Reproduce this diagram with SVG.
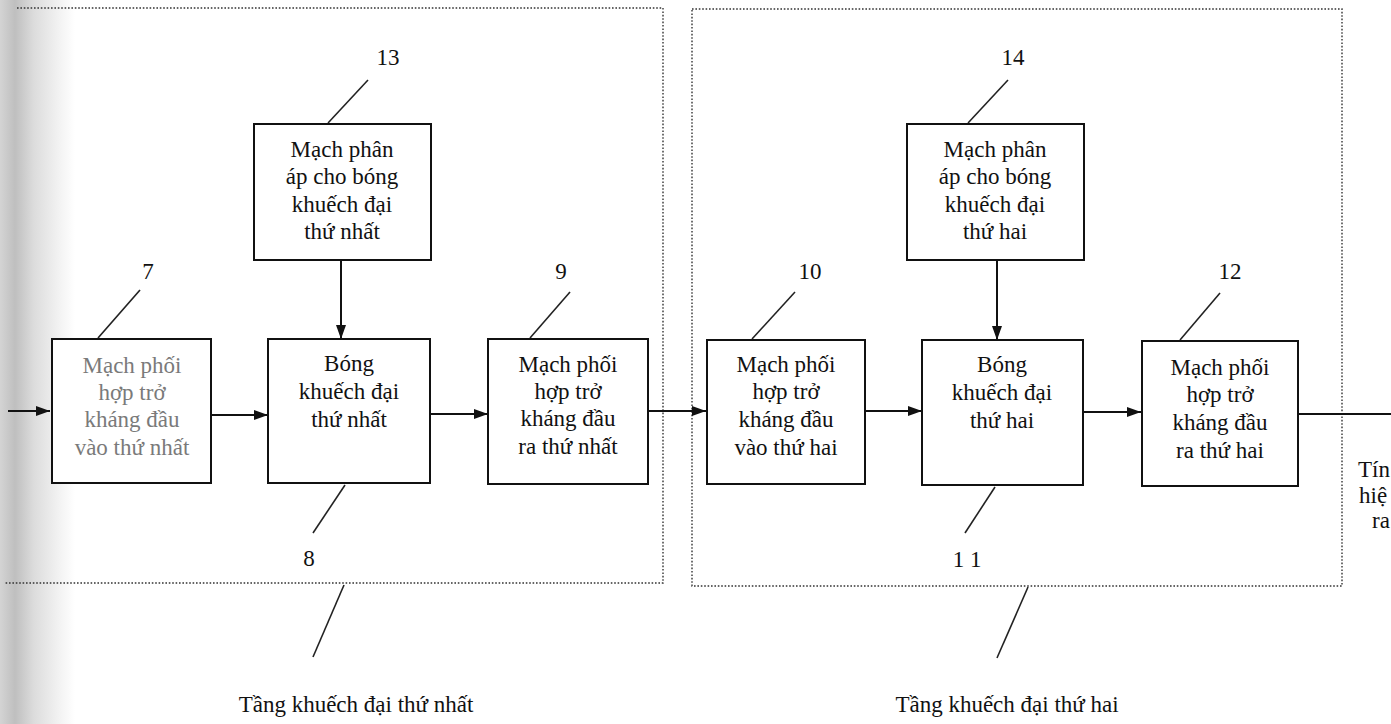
<svg xmlns="http://www.w3.org/2000/svg" width="1391" height="724" viewBox="0 0 1391 724">
<style>
.box{fill:#fff;stroke:#111;stroke-width:2}
.t{font-family:"Liberation Serif","Times New Roman",serif;font-size:23px;fill:#111;text-anchor:middle}
.g{fill:#7a7a7a}
.lead{stroke:#222;stroke-width:1.6;fill:none}
.dot{stroke:#333;stroke-width:1.4;stroke-dasharray:1.6 1.8;fill:none}
.arr{stroke:#111;stroke-width:2;fill:none;marker-end:url(#ah)}
.ln{stroke:#111;stroke-width:2;fill:none}
</style>
<defs>
<marker id="ah" viewBox="0 0 14 10" refX="14" refY="5" markerWidth="14" markerHeight="10" markerUnits="userSpaceOnUse" orient="auto">
<path d="M0,0 L14,5 L0,10 Z" fill="#111"/>
</marker>
<linearGradient id="shade" x1="0" y1="0" x2="1" y2="0">
<stop offset="0" stop-color="#d4d4d4"/>
<stop offset="0.2" stop-color="#bfbfbf"/>
<stop offset="0.45" stop-color="#dcdcdc"/>
<stop offset="0.8" stop-color="#f3f3f3"/>
<stop offset="1" stop-color="#ffffff"/>
</linearGradient>
</defs>
<rect width="1391" height="724" fill="#fff"/>
<rect x="0" y="0" width="75" height="724" fill="url(#shade)"/>

<g id="stage1">
<path class="dot" d="M17,8 H663 V583 H5"/>
</g>
<g id="stage2">
<rect class="dot" x="692" y="9" width="650" height="577"/>
</g>

<g id="connectors">
<line class="arr" x1="8" y1="411" x2="50" y2="411"/>
<line class="arr" x1="211" y1="415" x2="268" y2="415"/>
<line class="arr" x1="430" y1="414" x2="488" y2="414"/>
<line class="arr" x1="648" y1="411" x2="706" y2="411"/>
<line class="arr" x1="865" y1="411" x2="922" y2="411"/>
<line class="arr" x1="1083" y1="412" x2="1141" y2="412"/>
<line class="ln" x1="1298" y1="414" x2="1391" y2="414"/>
<line class="arr" x1="341" y1="260" x2="341" y2="339"/>
<line class="arr" x1="997" y1="260" x2="997" y2="340"/>
</g>

<g id="leaders">
<line class="lead" x1="368" y1="80" x2="328" y2="123"/>
<line class="lead" x1="1008" y1="80" x2="968" y2="123"/>
<line class="lead" x1="140" y1="290" x2="98" y2="338"/>
<line class="lead" x1="570" y1="292" x2="530" y2="338"/>
<line class="lead" x1="795" y1="292" x2="752" y2="339"/>
<line class="lead" x1="1220" y1="293" x2="1180" y2="340"/>
<line class="lead" x1="345" y1="485" x2="313" y2="533"/>
<line class="lead" x1="995" y1="487" x2="965" y2="533"/>
<line class="lead" x1="344" y1="585" x2="313" y2="657"/>
<line class="lead" x1="1028" y1="587" x2="997" y2="658"/>
</g>

<g id="labels">
<text class="t" x="388" y="65">13</text>
<text class="t" x="1013" y="65">14</text>
<text class="t" x="148" y="279">7</text>
<text class="t" x="561" y="279">9</text>
<text class="t" x="810" y="279">10</text>
<text class="t" x="1230" y="279">12</text>
<text class="t" x="309" y="566">8</text>
<text class="t" x="967" y="567">1 1</text>
<text class="t" x="356" y="712">Tầng khuếch đại thứ nhất</text>
<text class="t" x="1007" y="712">Tầng khuếch đại thứ hai</text>
<text class="t" x="1358" y="477" style="text-anchor:start">Tín</text>
<text class="t" x="1359" y="503" style="text-anchor:start">hiệ</text>
<text class="t" x="1372" y="528" style="text-anchor:start">ra</text>
</g>

<g id="n7">
<rect class="box" x="52" y="339" width="159" height="144"/>
<text class="t g" x="132" y="373">Mạch phối</text>
<text class="t g" x="132" y="400">hợp trở</text>
<text class="t g" x="132" y="427">kháng đầu</text>
<text class="t g" x="132" y="455">vào thứ nhất</text>
</g>
<g id="n8">
<rect class="box" x="268" y="339" width="162" height="144"/>
<text class="t" x="349" y="371">Bóng</text>
<text class="t" x="349" y="399">khuếch đại</text>
<text class="t" x="349" y="427">thứ nhất</text>
</g>
<g id="n9">
<rect class="box" x="488" y="339" width="160" height="145"/>
<text class="t" x="568" y="372">Mạch phối</text>
<text class="t" x="568" y="399">hợp trở</text>
<text class="t" x="568" y="426">kháng đầu</text>
<text class="t" x="568" y="454">ra thứ nhất</text>
</g>
<g id="n13">
<rect class="box" x="254" y="124" width="177" height="136"/>
<text class="t" x="342" y="157">Mạch phân</text>
<text class="t" x="342" y="184">áp cho bóng</text>
<text class="t" x="342" y="212">khuếch đại</text>
<text class="t" x="342" y="239">thứ nhất</text>
</g>
<g id="n10">
<rect class="box" x="707" y="340" width="158" height="144"/>
<text class="t" x="786" y="372">Mạch phối</text>
<text class="t" x="786" y="399">hợp trở</text>
<text class="t" x="786" y="427">kháng đầu</text>
<text class="t" x="786" y="455">vào thứ hai</text>
</g>
<g id="n11">
<rect class="box" x="922" y="340" width="161" height="145"/>
<text class="t" x="1002" y="372">Bóng</text>
<text class="t" x="1002" y="400">khuếch đại</text>
<text class="t" x="1002" y="428">thứ hai</text>
</g>
<g id="n12">
<rect class="box" x="1142" y="341" width="156" height="145"/>
<text class="t" x="1220" y="375">Mạch phối</text>
<text class="t" x="1220" y="402">hợp trở</text>
<text class="t" x="1220" y="430">kháng đầu</text>
<text class="t" x="1220" y="458">ra thứ hai</text>
</g>
<g id="n14">
<rect class="box" x="907" y="124" width="177" height="136"/>
<text class="t" x="995" y="157">Mạch phân</text>
<text class="t" x="995" y="184">áp cho bóng</text>
<text class="t" x="995" y="212">khuếch đại</text>
<text class="t" x="995" y="239">thứ hai</text>
</g>
</svg>
